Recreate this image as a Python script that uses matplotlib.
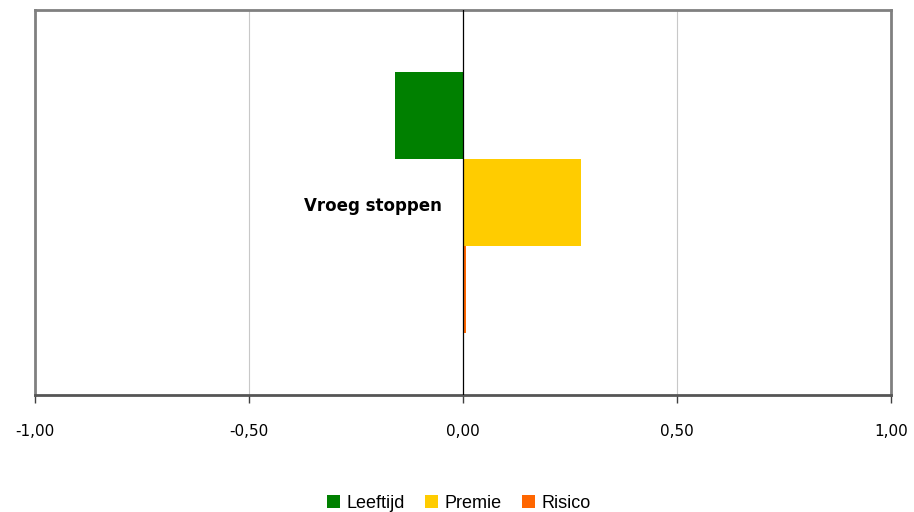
import matplotlib

matplotlib.use("Agg")
import matplotlib.pyplot as plt

# data
categorie = "Vroeg stoppen"
reeksen = ["Leeftijd", "Premie", "Risico"]
waarden = [-0.16, 0.276, 0.008]
kleuren = ["#008000", "#ffcc00", "#ff6600"]
xticks = [-1.0, -0.5, 0.0, 0.5, 1.0]
xlabels = ["-1,00", "-0,50", "0,00", "0,50", "1,00"]

fig = plt.figure(figsize=(9.14, 5.12), dpi=100)
ax = fig.add_axes([0.0383, 0.2285, 0.9366, 0.752])

h = 0.226
offsets = [h, 0.0, -h]
for naam, w, c, off in zip(reeksen, waarden, kleuren, offsets):
    ax.barh(off, w, height=h, color=c, label=naam, zorder=3)

ax.set_xlim(-1, 1)
ax.set_ylim(-0.5, 0.5)
ax.set_yticks([])
ax.set_xticks(xticks)
ax.set_xticklabels(xlabels, fontsize=11, family="Liberation Sans Narrow")
ax.tick_params(axis="x", direction="out", length=6, width=1, color="#404040", pad=15)

for x in (-0.5, 0.5):
    ax.axvline(x, color="#c8c8c8", lw=0.8, zorder=1)
ax.axvline(0, color="black", lw=0.9, zorder=4)

for kant in ("left", "top", "right"):
    ax.spines[kant].set_color("#808080")
    ax.spines[kant].set_linewidth(2)
ax.spines["bottom"].set_color("#555555")
ax.spines["bottom"].set_linewidth(2)

ax.text(-0.05, -0.01, categorie, ha="right", va="center",
        fontsize=12, fontweight="bold", family="DejaVu Sans")

fig.legend(loc="lower center", bbox_to_anchor=(0.502, -0.032), ncol=3, frameon=False,
           handlelength=0.75, handleheight=0.75, handletextpad=0.35,
           columnspacing=1.1, prop={"family": "Liberation Sans", "size": 13})

fig.savefig("out.png", dpi=100)
